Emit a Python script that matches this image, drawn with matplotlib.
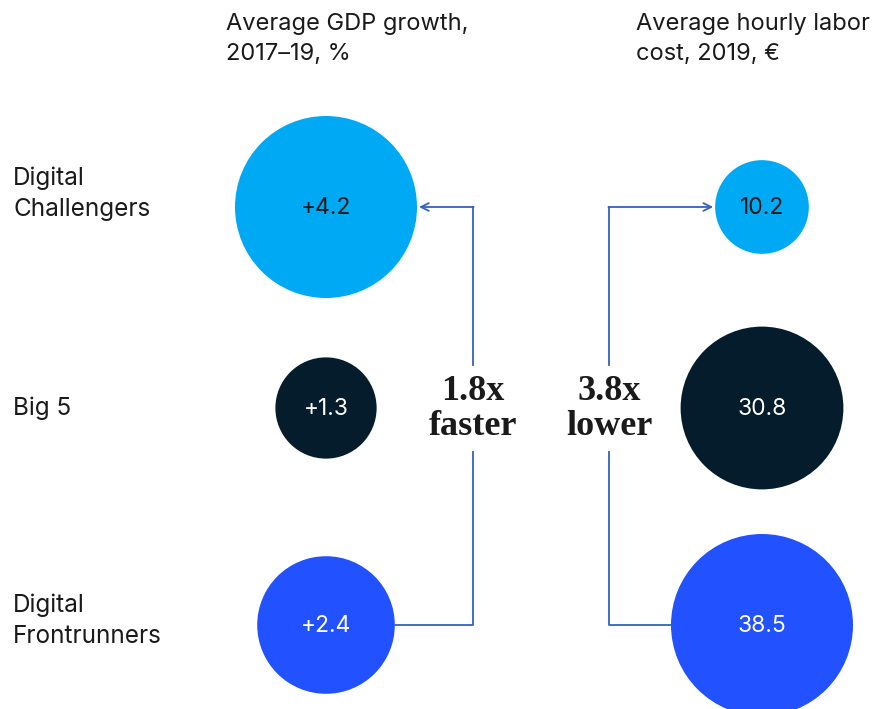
import numpy as np
import matplotlib.pyplot as plt
from matplotlib.patches import Circle

# data
groups = ["Digital\nChallengers", "Big 5", "Digital\nFrontrunners"]
gdp_growth = [4.2, 1.3, 2.4]
labor_cost = [10.2, 30.8, 38.5]
gdp_labels = ["+4.2", "+1.3", "+2.4"]
cost_labels = ["10.2", "30.8", "38.5"]
colors = ["#00A9F4", "#051C2C", "#2251FF"]
text_colors = ["#1a1a1a", "white", "white"]

header_left = "Average GDP growth,\n2017\u201319, %"
header_right = "Average hourly labor\ncost, 2019, \u20ac"
note_left = "1.8x\nfaster"
note_right = "3.8x\nlower"

plt.rcParams['font.family'] = ['Inter', 'DejaVu Sans']

fig = plt.figure(figsize=(8.8, 7.09), dpi=100)
ax = fig.add_axes([0, 0, 1, 1])
ax.set_xlim(0, 880)
ax.set_ylim(709, 0)
ax.set_aspect('equal')
ax.axis('off')

row_y = [207, 408, 625]
label_y = [194, 408, 621]
col_left, col_right = 326, 762
max_r = 91
line_col = "#3461C4"

def radii(vals):
    vals = np.array(vals, dtype=float)
    return max_r * np.sqrt(vals / vals.max())

r_left = radii(gdp_growth)
r_right = radii(labor_cost)

for i in range(3):
    ax.add_patch(Circle((col_left, row_y[i]), r_left[i], color=colors[i], lw=0))
    ax.add_patch(Circle((col_right, row_y[i]), r_right[i], color=colors[i], lw=0))
    ax.text(col_left, row_y[i] + 1, gdp_labels[i], ha='center', va='center',
            fontsize=16.5, color=text_colors[i])
    ax.text(col_right, row_y[i] + 1, cost_labels[i], ha='center', va='center',
            fontsize=16.5, color=text_colors[i])
    ax.text(13, label_y[i], groups[i], ha='left', va='center', fontsize=17.5,
            color="#1a1a1a", linespacing=1.45)

ax.text(226, 13, header_left, ha='left', va='top', fontsize=17,
        color="#1a1a1a", linespacing=1.5)
ax.text(636, 13, header_right, ha='left', va='top', fontsize=17,
        color="#1a1a1a", linespacing=1.5)

# bracket lines
xl, xr = 473, 609
top, bot = row_y[0], row_y[2]
gap_top, gap_bot = 365, 452

# left bracket: from bottom bubble to top bubble (arrow)
ax.plot([col_left + r_left[2], xl, xl], [bot, bot, gap_bot], color=line_col, lw=1.3)
ax.plot([xl, xl], [gap_top, top], color=line_col, lw=1.3)
ax.annotate("", xy=(col_left + r_left[0] + 2, top), xytext=(xl + 0.6, top),
            arrowprops=dict(arrowstyle='->', color=line_col, lw=1.3,
                            shrinkA=0, shrinkB=0, mutation_scale=14))

# right bracket
ax.plot([col_right - r_right[2], xr, xr], [bot, bot, gap_bot], color=line_col, lw=1.3)
ax.plot([xr, xr], [gap_top, top], color=line_col, lw=1.3)
ax.annotate("", xy=(col_right - r_right[0] - 2, top), xytext=(xr - 0.6, top),
            arrowprops=dict(arrowstyle='->', color=line_col, lw=1.3,
                            shrinkA=0, shrinkB=0, mutation_scale=14))

ax.text(xl, 409, note_left, ha='center', va='center', fontsize=26,
        fontweight='bold', family='Liberation Serif', color="#1a1a1a",
        linespacing=1.1)
ax.text(xr, 409, note_right, ha='center', va='center', fontsize=26,
        fontweight='bold', family='Liberation Serif', color="#1a1a1a",
        linespacing=1.1)

fig.savefig("out.png", dpi=100)
